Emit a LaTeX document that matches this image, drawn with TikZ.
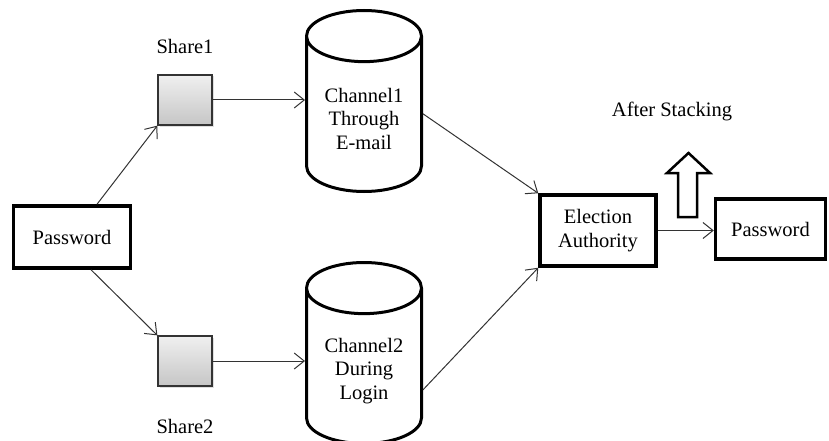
\documentclass[tikz,border=0pt]{standalone}
\usepackage{fontspec}
\setmainfont{Liberation Serif}
\usetikzlibrary{positioning,shapes.geometric,arrows.meta,shadows}

\begin{document}
\begin{tikzpicture}[x=1pt, y=-1pt, font=\fontsize{20.5}{23.5}\selectfont,
    box/.style={draw, line width=3.5pt, align=center},
    sharebox/.style={draw=black!80, line width=1.3pt, top color=gray!12, bottom color=gray!45,
      minimum width=54pt, minimum height=50pt,
      drop shadow={shadow xshift=1.5pt, shadow yshift=-1.5pt, opacity=0.25}},
    channel/.style={draw, cylinder, shape border rotate=90, aspect=0.6, line width=3pt,
      minimum width=115pt, minimum height=181pt, align=center, anchor=shape center},
    link/.style={draw=black!80, line width=1pt, -{Straight Barb[length=10pt, width=16pt]}}]
  \useasboundingbox (0,0) rectangle (829,441);

  % input and the two shares
  \node[box, minimum width=117pt, minimum height=62pt] (pass) at (72,237) {Password};
  \node[sharebox] (share1) at (185,100) {};
  \node[sharebox] (share2) at (185,361) {};
  \node[above=17pt of share1] (s1lab) {Share1};
  \node[below=29pt of share2] (s2lab) {Share2};

  % the two channels
  \node[channel] (chan1) at (364,101) {Channel1\\Through\\E-mail};
  \node[channel] (chan2) at (364,353) {Channel2\\During\\Login};

  % authority and recovered password
  \node[box, minimum width=116pt, minimum height=71pt] (elect) at (598,230.5) {Election\\Authority};
  \node[box, minimum width=110pt, minimum height=60pt] (pass2) at (770.5,229) {Password};

  % stacking marker
  \draw[line width=2.5pt, fill=white] (678,217) -- (697,217) -- (697,173) -- (710,173)
    -- (688.5,153) -- (667,173) -- (678,173) -- cycle;
  \node (stack) at (672,111) {After Stacking};

  % connectors
  \draw[link] ([xshift=25pt]pass.north) -- (share1.south west);
  \draw[link] ([xshift=19pt]pass.south) -- (share2.north west);
  \draw[link] (share1.east) -- (share1.east -| chan1.west);
  \draw[link] (share2.east) -- (share2.east -| chan2.west);
  \draw[link] ([yshift=5pt]chan1.east) -- (elect.north west);
  \draw[link] ([yshift=-19pt]chan2.east) -- (elect.south west);
  \draw[link] (elect.east) -- (elect.east -| pass2.west);
\end{tikzpicture}
\end{document}
